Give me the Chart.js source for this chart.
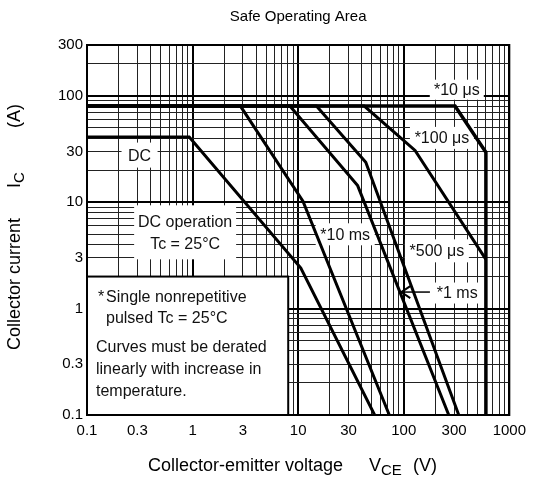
<!DOCTYPE html>
<html>
<head>
<meta charset="utf-8">
<script src="https://cdn.jsdelivr.net/npm/chart.js@4.4.1/dist/chart.umd.min.js"></script>
<style>
  html, body { margin: 0; padding: 0; background: #fff; }
  #wrap { width: 533px; height: 490px; }
</style>
</head>
<body>
<div id="wrap"><canvas id="c" width="533" height="490"></canvas></div>
<script>
// ---- Data ----
const xTickLabels = [0.1, 0.3, 1, 3, 10, 30, 100, 300, 1000];
const yTickLabels = [0.1, 0.3, 1, 3, 10, 30, 100, 300];

const seriesNames = ['*10 μs', '*100 μs', '*500 μs', '*1 ms', '*10 ms', 'DC'];
const v10us  = [0.1, 306, 600, 600];
const i10us  = [80, 80, 29.4, 0.1];
const v100us = [0.1, 42.3, 128, 600];
const i100us = [80, 80, 30.6, 2.9];
const v500us = [0.1, 14.9, 43.7, 332];
const i500us = [80, 80, 23.7, 0.1];
const v1ms   = [0.1, 8.35, 36.6, 267];
const i1ms   = [80, 80, 14.3, 0.1];
const v10ms  = [0.1, 2.84, 11.1, 73];
const i10ms  = [80, 80, 10.2, 0.1];
const vDC    = [0.1, 0.93, 10.6, 53];
const iDC    = [41, 41, 2.4, 0.1];

const FONT = '"Liberation Sans", Arial, Helvetica, sans-serif';

function pts(vs, is) { return vs.map((v, k) => ({ x: v, y: is[k] })); }
function logGrid(min, max) {
  const out = [];
  for (let e = -1; e <= 3; e++) for (let m = 1; m <= 9; m++) {
    const v = +(m * Math.pow(10, e)).toPrecision(4);
    if (v >= min * 0.999 && v <= max * 1.001) out.push(v);
  }
  return out;
}
function isDecade(v) { const l = Math.log10(v); return Math.abs(l - Math.round(l)) < 1e-6; }
function inList(v, list) { return list.some(t => Math.abs(t - v) / t < 1e-6); }
function fmt(v) { return String(v); }

const seriesData = [
  pts(v10us, i10us), pts(v100us, i100us), pts(v500us, i500us),
  pts(v1ms, i1ms), pts(v10ms, i10ms), pts(vDC, iDC)
];

// Annotation labels: anchor in data coordinates (centre), box size in px
const labels = [
  { text: ['DC'], v: 0.3146, i: 27.7, w: 36, h: 25 },
  { text: ['DC operation', 'Tc = 25°C'], v: 0.85, i: 5.21, w: 102, h: 54, lineGap: 22 },
  { text: ['*10 μs'], v: 318, i: 114, w: 54, h: 20 },
  { text: ['*100 μs'], v: 230, i: 40.2, w: 64, h: 22 },
  { text: ['*10 ms'], v: 27.9, i: 4.99, w: 59, h: 22 },
  { text: ['*500 μs'], v: 206, i: 3.49, w: 64, h: 23 },
  { text: ['*1 ms'], v: 321, i: 1.40, w: 49, h: 21 }
];
const noteBox = { v0: 0.1, v1: 8.05, i0: 0.1, i1: 2.0 };
const noteLines = [
  { t: '*', dx: 11, dy: 21 }, { t: 'Single nonrepetitive', dx: 19, dy: 21 },
  { t: 'pulsed Tc = 25°C', dx: 19, dy: 42 },
  { t: 'Curves must be derated', dx: 9, dy: 71 },
  { t: 'linearly with increase in', dx: 9, dy: 93 },
  { t: 'temperature.', dx: 9, dy: 115 }
];
const arrow1ms = { v0: 177, v1: 94.8, i: 1.43 };

const annot = {
  id: 'annot',
  beforeDatasetsDraw(chart) {
    const { ctx, scales: { x, y } } = chart;
    ctx.save();
    ctx.fillStyle = '#fff';
    labels.forEach(l => {
      const cx = x.getPixelForValue(l.v), cy = y.getPixelForValue(l.i);
      ctx.fillRect(cx - l.w / 2, cy - l.h / 2, l.w, l.h);
    });
    const L = x.getPixelForValue(noteBox.v0), R = x.getPixelForValue(noteBox.v1);
    const T = y.getPixelForValue(noteBox.i1), B = y.getPixelForValue(noteBox.i0);
    ctx.fillRect(L, T, R - L, B - T);
    ctx.strokeStyle = '#000';
    ctx.lineWidth = 2;
    ctx.strokeRect(L, T, R - L, B - T);
    ctx.restore();
  },
  afterDatasetsDraw(chart) {
    const { ctx, chartArea: a, scales: { x, y } } = chart;
    ctx.save();
    // frame
    ctx.strokeStyle = '#000';
    ctx.lineWidth = 2;
    ctx.strokeRect(a.left, a.top, a.right - a.left, a.bottom - a.top);
    // label texts
    ctx.fillStyle = '#111';
    ctx.font = '16px ' + FONT;
    ctx.textAlign = 'center';
    ctx.textBaseline = 'middle';
    labels.forEach(l => {
      const cx = x.getPixelForValue(l.v), cy = y.getPixelForValue(l.i);
      if (l.text.length === 1) ctx.fillText(l.text[0], cx, cy + 1);
      else {
        ctx.fillText(l.text[0], cx, cy - l.lineGap / 2 + 1);
        ctx.fillText(l.text[1], cx, cy + l.lineGap / 2 + 1);
      }
    });
    // note text
    const L = x.getPixelForValue(noteBox.v0), T = y.getPixelForValue(noteBox.i1);
    ctx.textAlign = 'left';
    noteLines.forEach(n => ctx.fillText(n.t, L + n.dx, T + n.dy));
    // arrow for 1 ms
    const ax0 = x.getPixelForValue(arrow1ms.v0), ax1 = x.getPixelForValue(arrow1ms.v1);
    const ay = y.getPixelForValue(arrow1ms.i);
    ctx.strokeStyle = '#000';
    ctx.lineWidth = 1.5;
    ctx.beginPath(); ctx.moveTo(ax0, ay); ctx.lineTo(ax1, ay); ctx.stroke();
    ctx.lineWidth = 2;
    ctx.beginPath();
    ctx.moveTo(ax1 + 9, ay - 6); ctx.lineTo(ax1, ay); ctx.lineTo(ax1 + 9, ay + 6);
    ctx.stroke();
    // title
    const mid = (a.left + a.right) / 2;
    ctx.fillStyle = '#000';
    ctx.textAlign = 'center';
    ctx.font = '15px ' + FONT;
    ctx.fillText('Safe Operating Area', mid, 17);
    // x title
    ctx.font = '18px ' + FONT;
    ctx.textAlign = 'left';
    ctx.fillText('Collector-emitter voltage', 148, 466);
    ctx.fillText('V', 369, 466);
    const wV = ctx.measureText('V').width;
    ctx.font = '15px ' + FONT;
    ctx.fillText('CE', 369 + wV, 471);
    ctx.font = '18px ' + FONT;
    ctx.fillText('(V)', 413, 466);
    // y title
    ctx.translate(15, 350);
    ctx.rotate(-Math.PI / 2);
    ctx.fillText('Collector current', 0, 0);
    ctx.fillText('I', 162, 0);
    const wI = ctx.measureText('I').width;
    ctx.font = '15px ' + FONT;
    ctx.fillText('C', 162 + wI, 5);
    ctx.font = '18px ' + FONT;
    ctx.fillText('(A)', 222, 0);
    ctx.restore();
  }
};

const gridOpts = {
  color: (c) => (c.tick && isDecade(c.tick.value)) ? '#000' : '#222',
  lineWidth: (c) => (c.tick && isDecade(c.tick.value)) ? 2 : 1,
  drawTicks: false
};

new Chart(document.getElementById('c'), {
  type: 'scatter',
  data: {
    datasets: seriesData.map((d, k) => ({
      label: seriesNames[k],
      data: d,
      showLine: true,
      borderColor: '#000',
      backgroundColor: '#000',
      borderWidth: k === 0 ? 3.5 : 3,
      pointRadius: 0,
      pointHoverRadius: 0,
      tension: 0,
      fill: false
    }))
  },
  options: {
    responsive: false,
    animation: false,
    devicePixelRatio: 1,
    layout: { padding: { top: 45, right: 20, left: 0, bottom: 0 } },
    plugins: { legend: { display: false }, tooltip: { enabled: false }, title: { display: false } },
    scales: {
      x: {
        type: 'logarithmic', position: 'bottom', min: 0.1, max: 1000,
        afterBuildTicks: (s) => { s.ticks = logGrid(0.1, 1000).map(v => ({ value: v })); },
        afterFit: (s) => { s.height = 75; },
        grid: gridOpts,
        border: { display: true, color: '#000', width: 2 },
        ticks: {
          autoSkip: false, maxRotation: 0, padding: 7, color: '#000',
          font: { family: FONT, size: 15 },
          callback: (v) => inList(v, xTickLabels) ? fmt(v) : ''
        }
      },
      y: {
        type: 'logarithmic', position: 'left', min: 0.1, max: 300,
        afterBuildTicks: (s) => { s.ticks = logGrid(0.1, 300).map(v => ({ value: v })); },
        afterFit: (s) => { s.width = 87; },
        grid: gridOpts,
        border: { display: true, color: '#000', width: 2 },
        ticks: {
          autoSkip: false, padding: 4, color: '#000',
          font: { family: FONT, size: 15 },
          callback: (v) => inList(v, yTickLabels) ? fmt(v) : ''
        }
      }
    }
  },
  plugins: [annot]
});
</script>
</body>
</html>
